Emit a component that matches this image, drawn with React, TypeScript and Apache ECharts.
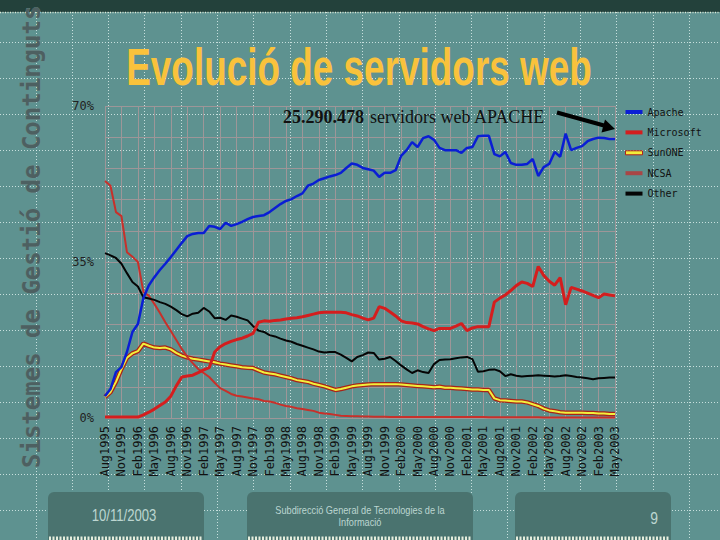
import React, { useEffect, useRef } from 'react';
import * as echarts from 'echarts';

// ---------- data ----------
const MONTH_NAMES = ['Jan', 'Feb', 'Mar', 'Apr', 'May', 'Jun', 'Jul', 'Aug', 'Sep', 'Oct', 'Nov', 'Dec'];
// monthly categories, Aug1995 .. May2003
const categories: string[] = [];
{
  let y = 1995;
  let m = 7;
  while (y < 2003 || (y === 2003 && m <= 4)) {
    categories.push(MONTH_NAMES[m] + y);
    m++;
    if (m === 12) { m = 0; y++; }
  }
}

const yTickLabels = [0, 35, 70];

const apache = [
  4.9, 6.5, 10.3, 11.4, 14.8, 19.3, 21.1, 26.9, 29.8, 31.6,
  33.2, 34.6, 36.1, 37.7, 39.3, 40.8, 41.3, 41.5, 41.5, 43.1,
  42.9, 42.4, 43.8, 43.1, 43.5, 44.0, 44.6, 45.1, 45.3, 45.5,
  46.2, 47.1, 48.0, 48.7, 49.1, 49.8, 50.4, 52.1, 52.6, 53.4,
  53.8, 54.2, 54.5, 55.0, 56.1, 57.1, 56.8, 56.1, 55.8, 55.5,
  54.1, 55.0, 55.0, 55.6, 58.8, 60.1, 61.9, 60.8, 62.8, 63.2,
  62.4, 60.6, 60.1, 60.1, 60.1, 59.5, 60.6, 60.8, 63.2, 63.3,
  63.3, 59.2, 58.7, 59.7, 57.2, 56.8, 56.8, 57.0, 58.1, 54.3,
  56.3, 57.0, 59.7, 58.6, 63.8, 60.1, 60.6, 61.0, 62.1, 62.6,
  62.9, 62.8, 62.6, 62.6,
];

const microsoft = [
  0.2, 0.2, 0.2, 0.2, 0.2, 0.2, 0.2, 0.7, 1.3, 2.0,
  2.8, 3.6, 4.9, 7.2, 9.2, 9.4, 9.6, 10.2, 10.8, 11.3,
  14.8, 16.0, 16.7, 17.2, 17.6, 17.9, 18.4, 19.0, 21.5, 21.8,
  21.7, 21.9, 22.0, 22.2, 22.4, 22.5, 22.7, 23.0, 23.3, 23.6,
  23.7, 23.7, 23.7, 23.7, 23.6, 23.2, 22.9, 22.4, 22.0, 22.4,
  25.0, 24.6, 23.8, 22.9, 21.8, 21.4, 21.3, 21.1, 20.5, 20.0,
  19.6, 20.1, 20.1, 20.1, 20.6, 21.2, 19.6, 20.2, 20.5, 20.5,
  20.5, 26.0, 26.9, 27.6, 28.6, 29.7, 30.5, 30.2, 29.5, 34.0,
  32.0, 30.7, 29.8, 31.5, 25.4, 29.3, 28.9, 28.5, 28.0, 27.5,
  27.0, 27.8, 27.6, 27.4,
];

const sunone = [
  4.7, 5.8, 8.1, 11.0, 13.5, 14.5, 15.0, 16.7, 16.2, 15.8,
  15.7, 15.8, 15.4, 14.6, 14.0, 13.6, 13.3, 13.1, 12.9, 12.7,
  12.5, 12.2, 12.0, 11.8, 11.6, 11.4, 11.3, 11.2, 10.7, 10.2,
  10.0, 9.8, 9.5, 9.2, 8.9, 8.5, 8.3, 8.1, 7.7, 7.4,
  7.1, 6.7, 6.3, 6.5, 6.8, 7.1, 7.3, 7.4, 7.5, 7.6,
  7.6, 7.6, 7.6, 7.6, 7.5, 7.4, 7.3, 7.2, 7.1, 7.0,
  6.9, 7.0, 6.8, 6.8, 6.7, 6.6, 6.5, 6.4, 6.4, 6.3,
  6.3, 4.4, 4.0, 3.9, 3.8, 3.7, 3.7, 3.5, 3.1, 2.7,
  2.1, 1.7, 1.5, 1.3, 1.2, 1.2, 1.2, 1.2, 1.1, 1.1,
  1.0, 1.0, 0.9, 0.9,
];

const ncsa = [
  53.2, 52.1, 46.2, 45.3, 37.2, 36.2, 35.0, 28.3, 27.4, 25.6,
  23.6, 21.5, 19.5, 17.5, 15.5, 13.7, 12.3, 11.0, 10.1, 9.2,
  7.9, 6.7, 6.1, 5.4, 5.0, 4.8, 4.6, 4.4, 4.2, 3.8,
  3.7, 3.4, 3.0, 2.7, 2.5, 2.2, 2.0, 1.8, 1.6, 1.2,
  1.0, 0.9, 0.7, 0.5, 0.45, 0.4, 0.4, 0.35, 0.35, 0.3,
  0.3, 0.3, 0.25, 0.25, 0.25, 0.2, 0.2, 0.2, 0.2, 0.2,
  0.2, 0.2, 0.2, 0.2, 0.2, 0.2, 0.2, 0.2, 0.2, 0.2,
  0.15, 0.15, 0.15, 0.15, 0.15, 0.15, 0.15, 0.15, 0.15, 0.15,
  0.1, 0.1, 0.1, 0.1, 0.1, 0.1, 0.1, 0.1, 0.1, 0.1,
  0.1, 0.1, 0.1, 0.1,
];

const other = [
  37.0, 36.5, 35.9, 34.6, 32.5, 30.5, 29.5, 27.1, 26.8, 26.5,
  26.0, 25.6, 25.0, 24.2, 23.3, 22.8, 23.4, 23.6, 24.7, 23.9,
  22.4, 22.5, 22.0, 23.0, 22.7, 22.3, 21.9, 20.6, 19.6, 19.3,
  18.6, 18.3, 17.8, 17.4, 17.1, 16.6, 16.2, 15.8, 15.4, 14.9,
  14.7, 14.8, 14.8, 14.2, 13.5, 12.7, 13.7, 14.1, 14.7, 14.6,
  13.1, 13.3, 13.7, 12.8, 11.8, 10.9, 10.1, 10.7, 10.3, 10.1,
  12.1, 13.0, 13.1, 13.2, 13.4, 13.6, 13.7, 13.2, 10.4, 10.5,
  10.8, 10.9, 10.5, 9.4, 9.8, 9.5, 9.3, 9.4, 9.5, 9.6,
  9.5, 9.4, 9.3, 9.4, 9.6, 9.4, 9.2, 9.1, 8.9, 8.7,
  8.9, 9.0, 9.1, 9.1,
];

const seriesNames = ['Apache', 'Microsoft', 'SunONE', 'NCSA', 'Other'];

// ---------- styling ----------
const BG = '#5e9290';
const GRID_GRAY = '#9d9698';
const MONO = '"DejaVu Sans Mono", monospace';

function buildBackground(): any[] {
  const els: any[] = [];
  const dot = { stroke: 'rgba(225,242,240,0.8)', lineWidth: 1, lineDash: [1, 2] };
  for (let x = 35.5; x < 720; x += 36.3) {
    els.push({ type: 'line', z: -5, silent: true, shape: { x1: Math.round(x) + 0.5, y1: 12, x2: Math.round(x) + 0.5, y2: 540 }, style: dot });
  }
  for (let y = 42; y < 540; y += 36) {
    els.push({ type: 'line', z: -5, silent: true, shape: { x1: 0, y1: y + 0.5, x2: 720, y2: y + 0.5 }, style: dot });
  }
  return els;
}

function buildDecor(): any[] {
  const boxFill = '#4a736f';
  const lightText = '#bcd6d1';
  const boxes = [
    { x: 48, w: 156 },
    { x: 247, w: 226 },
    { x: 515, w: 156 },
  ];
  const els: any[] = [];
  // top banner
  els.push({ type: 'rect', z: 1, shape: { x: 0, y: 0, width: 720, height: 12 }, style: { fill: '#23413b' } });
  els.push({ type: 'line', z: 1, shape: { x1: 0, y1: 12.5, x2: 720, y2: 12.5 }, style: { stroke: '#dfe8d6', lineWidth: 1.5, lineDash: [1, 1.5] } });
  // footer boxes
  boxes.forEach((b) => {
    els.push({ type: 'rect', z: 1, shape: { x: b.x, y: 492, width: b.w, height: 48, r: [6, 6, 0, 0] }, style: { fill: boxFill } });
    els.push({ type: 'line', z: 1, shape: { x1: b.x + 1, y1: 538.5, x2: b.x + b.w - 1, y2: 538.5 }, style: { stroke: '#e6eedd', lineWidth: 4, lineDash: [2, 1.5] } });
  });
  els.push({ type: 'text', z: 2, x: 124, y: 516, scaleX: 0.82, style: { text: '10/11/2003', font: '16px "Liberation Sans", Arial, sans-serif', fill: lightText, align: 'center', verticalAlign: 'middle', textAlign: 'center', textVerticalAlign: 'middle' } });
  els.push({ type: 'text', z: 2, x: 360, y: 510, scaleX: 0.92, style: { text: 'Subdirecció General de Tecnologies de la', font: '10px "Liberation Sans", Arial, sans-serif', fill: lightText, align: 'center', verticalAlign: 'middle', textAlign: 'center', textVerticalAlign: 'middle' } });
  els.push({ type: 'text', z: 2, x: 360, y: 522, scaleX: 0.92, style: { text: 'Informació', font: '10px "Liberation Sans", Arial, sans-serif', fill: lightText, align: 'center', verticalAlign: 'middle', textAlign: 'center', textVerticalAlign: 'middle' } });
  els.push({ type: 'text', z: 2, x: 654, y: 518, scaleX: 0.82, style: { text: '9', font: '17px "Liberation Sans", Arial, sans-serif', fill: lightText, align: 'center', verticalAlign: 'middle', textAlign: 'center', textVerticalAlign: 'middle' } });
  // left vertical slide caption
  els.push({ type: 'text', z: 1, x: 32, y: 468, rotation: Math.PI / 2, style: { text: 'Sistemes de Gestió de Continguts', font: 'bold 24px ' + MONO, fill: '#4d6061', stroke: '#6f8d8c', lineWidth: 0.6, align: 'left', verticalAlign: 'middle', textAlign: 'left', textVerticalAlign: 'middle' } });
  // title
  els.push({ type: 'text', z: 2, x: 359, y: 67, scaleX: 0.71, style: { text: 'Evolució de servidors web', font: 'bold 52px "Liberation Sans", Arial, sans-serif', fill: '#f9c23c', align: 'center', verticalAlign: 'middle', textAlign: 'center', textVerticalAlign: 'middle' } });
  // annotation
  els.push({ type: 'text', z: 3, x: 283, y: 117, style: { text: '25.290.478', font: 'bold 18px "Liberation Serif", "Times New Roman", serif', fill: '#111', align: 'left', verticalAlign: 'middle', textAlign: 'left', textVerticalAlign: 'middle' } });
  els.push({ type: 'text', z: 3, x: 370, y: 117, style: { text: 'servidors web APACHE', font: '18px "Liberation Serif", "Times New Roman", serif', fill: '#111', align: 'left', verticalAlign: 'middle', textAlign: 'left', textVerticalAlign: 'middle' } });
  // arrow
  els.push({ type: 'line', z: 3, shape: { x1: 557, y1: 112.5, x2: 604, y2: 125.5 }, style: { stroke: '#000', lineWidth: 4 } });
  els.push({ type: 'polygon', z: 3, shape: { points: [[615, 129], [601.5, 132.5], [605, 119.5]] }, style: { fill: '#000' } });
  return els;
}

export default function App() {
  const ref = useRef<HTMLDivElement>(null);

  useEffect(() => {
    if (!ref.current) return;
    const chart = echarts.init(ref.current, undefined, { renderer: 'svg' });

    const lineSeries = (name: string, data: number[], color: string, width: number, z: number) => ({
      name,
      type: 'line',
      data,
      symbol: 'none',
      showSymbol: false,
      z,
      lineStyle: { color, width },
      itemStyle: { color },
      emphasis: { disabled: true },
    });

    const option: any = {
      animation: false,
      backgroundColor: BG,
      grid: { left: 105, right: 105, top: 106, bottom: 122, containLabel: false },
      xAxis: {
        type: 'category',
        data: categories,
        boundaryGap: false,
        axisLine: { show: false },
        axisTick: { show: false },
        axisLabel: {
          interval: 2,
          rotate: 90,
          color: '#111',
          fontFamily: MONO,
          fontSize: 12,
          margin: 8,
        },
        splitLine: { show: true, interval: 2, lineStyle: { color: GRID_GRAY, width: 1 } },
      },
      yAxis: {
        type: 'value',
        min: 0,
        max: 70,
        interval: 7,
        axisLine: { show: false },
        axisTick: { show: false },
        axisLabel: {
          formatter: (v: number) => (yTickLabels.indexOf(Math.round(v)) >= 0 ? Math.round(v) + '%' : ''),
          color: '#222',
          fontFamily: MONO,
          fontSize: 12,
          margin: 11,
        },
        splitLine: { lineStyle: { color: GRID_GRAY, width: 1 } },
      },
      legend: {
        orient: 'vertical',
        left: 625,
        top: 107,
        padding: 0,
        itemWidth: 17,
        itemHeight: 4,
        itemGap: 10.4,
        icon: 'rect',
        selectedMode: false,
        textStyle: { fontFamily: MONO, fontSize: 10, color: '#111' },
        data: [
          { name: seriesNames[0], itemStyle: { color: '#0a1ed4' } },
          { name: seriesNames[1], itemStyle: { color: '#d41e1e' } },
          { name: seriesNames[2], itemStyle: { color: '#f2ee3a', borderColor: '#b0201c', borderWidth: 1 } },
          { name: seriesNames[3], itemStyle: { color: '#a84646' } },
          { name: seriesNames[4], itemStyle: { color: '#050505' } },
        ],
      },
      graphic: { elements: [...buildBackground(), ...buildDecor()] },
      series: [
        lineSeries('SunONE-edge', sunone, '#a82418', 4.5, 2),
        lineSeries(seriesNames[2], sunone, '#f2f03c', 2, 3),
        lineSeries(seriesNames[3], ncsa, '#c8302a', 2, 3),
        lineSeries(seriesNames[4], other, '#050505', 2, 4),
        lineSeries(seriesNames[1], microsoft, '#d41e1e', 3, 4),
        lineSeries(seriesNames[0], apache, '#0a1ed4', 2.5, 5),
      ],
    };

    chart.setOption(option);
    return () => chart.dispose();
  }, []);

  return (
    <div
      ref={ref}
      style={{ position: 'fixed', left: 0, top: 0, width: 720, height: 540, background: BG }}
    />
  );
}
